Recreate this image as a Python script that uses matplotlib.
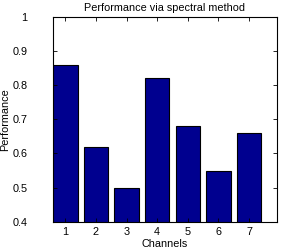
import matplotlib
matplotlib.use("Agg")
import matplotlib.pyplot as plt

channels = [1, 2, 3, 4, 5, 6, 7]
performance = [0.86, 0.62, 0.50, 0.82, 0.68, 0.55, 0.66]
yticks = [0.4, 0.5, 0.6, 0.7, 0.8, 0.9, 1.0]
yticklabels = ["0.4", "0.5", "0.6", "0.7", "0.8", "0.9", "1"]

plt.rcParams['font.family'] = ['Liberation Sans', 'DejaVu Sans']
fs = 7.8

fig = plt.figure(figsize=(2.82, 2.48), dpi=100)
ax = fig.add_axes([52.7/282, 1-221.7/248, (276.7-52.7)/282, (221.7-17)/248])
ax.bar(channels, performance, width=0.8, color='#00008F', edgecolor='black', linewidth=0.8)
ax.set_xlim(0.59, 7.9)
ax.set_ylim(0.4, 1.0)
ax.set_xticks(channels)
ax.set_xticklabels([str(c) for c in channels], fontsize=fs)
ax.set_yticks(yticks)
ax.set_yticklabels(yticklabels, fontsize=fs)
ax.tick_params(direction='in', top=True, right=True, length=3, width=0.6)
ax.tick_params(axis='x', pad=4)
ax.tick_params(axis='y', pad=18)
for s in ax.spines.values():
    s.set_linewidth(0.8)
ax.set_title("Performance via spectral method", fontsize=fs, pad=4)
ax.set_xlabel("Channels", fontsize=fs, labelpad=1)
ax.set_ylabel("Performance", fontsize=fs, labelpad=2)
fig.savefig("out.png", dpi=100)
